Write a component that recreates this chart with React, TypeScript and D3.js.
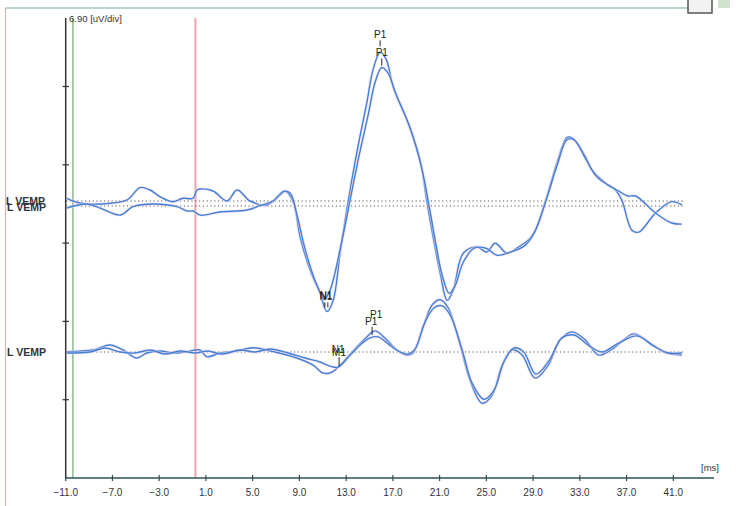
import React from 'react';
import * as d3 from 'd3';

// time [ms], amplitude [uV]
const topA: [number, number][] = [
  [-10.91, 0.24], [-9.78, -0.18], [-8.06, -0.27], [-5.75, 0.09], [-4.64, 1.18], [-3.78, 0.97],
  [-2.93, 0.38], [-1.81, -0.06], [-0.96, 0.24], [-0.1, 0.24], [0.24, 0.97], [0.5, 1.06],
  [1.61, 0.88], [2.81, 0], [3.67, 0.97], [4.78, 0], [6.23, -0.35], [7.35, 0.53], [7.78, 0.88],
  [8.46, -0.06], [9.06, -3.15], [9.92, -6.1], [10.77, -8.14], [11.35, -9.73], [11.89, -8.76],
  [12.48, -4.6], [13.17, -0.06], [13.91, 4.25], [14.77, 8.67], [15.31, 11.6], [15.91, 13.1],
  [16.42, 12.5], [17.02, 10.1], [18.19, 7.17], [19.33, 3.63], [19.91, -0.06], [20.45, -3.19],
  [21.05, -6.37], [21.65, -8.76], [22.16, -7.88], [23.02, -4.6], [24.19, -4.04], [25.04, -4.49],
  [25.75, -3.72], [26.76, -4.6], [27.61, -4.16], [28.75, -3.27], [29.32, -2.27], [30.18, 0.38],
  [31.04, 3.36], [31.89, 5.58], [32.31, 5.58], [33.48, 3.92], [34.02, 2.74], [35.19, 1.59],
  [36.05, 0.97], [36.59, 0.09], [37.45, -2.57], [38.05, -2.74], [39.48, -1.06], [40.87, -0.06],
  [41.73, -0.35],
];

const topB: [number, number][] = [
  [-10.91, -0.18], [-9.18, 0.18], [-8.06, -0.18], [-6.35, -0.8], [-5.24, -0.06], [-3.53, 0.18],
  [-1.47, -0.06], [-0.61, -0.44], [-0.1, -0.44], [0.5, -0.8], [2.21, -0.53], [4.52, -0.35],
  [5.63, 0.03], [6.75, 0.44], [7.61, 1.27], [8.2, 1.15], [8.8, -0.8], [9.4, -3.45], [10.17, -6.1],
  [10.77, -7.6], [11.11, -8.23], [11.62, -7.43], [12.65, -3.0], [13.34, 0.53], [14.03, 4.07],
  [14.88, 8.0], [15.48, 10.9], [16.05, 12.2], [16.59, 11.7], [17.28, 9.8], [18.47, 6.9],
  [19.5, 3.19], [20.1, 0], [20.7, -3.45], [21.22, -6.1], [21.82, -7.7], [22.34, -7.0],
  [23.02, -4.96], [23.96, -3.72], [24.98, -3.72], [25.92, -4.34], [27.04, -4.07], [28.23, -3.54],
  [29.09, -2.39], [30.12, 0.53], [31.07, 3.63], [31.9, 5.84], [32.5, 5.84], [33.55, 4.07],
  [34.4, 2.65], [35.4, 1.86], [36.3, 1.33], [37.1, 0.88], [37.77, 0.88], [39.48, -0.62],
  [40.87, -1.5], [41.73, -1.6],
];

const botA: [number, number][] = [
  [-10.91, 0.03], [-8.66, 0.18], [-7.21, 0.62], [-6.09, 0.18], [-4.92, -0.53], [-4.07, -0.09],
  [-2.93, 0.09], [-1.81, -0.09], [-0.64, 0.03], [0.5, 0.18], [1.07, -0.42], [2.21, -0.09],
  [3.64, 0.09], [5.04, 0.38], [6.75, 0.03], [8.46, -0.42], [10.17, -1.15], [11.03, -1.86],
  [11.8, -1.77], [12.9, -0.71], [13.91, 0.44], [14.77, 1.33], [15.48, 1.86], [16.48, 1.06],
  [17.34, 0.18], [18.19, -0.27], [18.73, -0.09], [19.59, 2.21], [20.37, 4.16], [21.05, 4.6],
  [21.73, 3.9], [22.76, 0.62], [23.6, -2.48], [24.64, -4.51], [25.5, -3.8], [26.35, -1.15],
  [27.2, 0.18], [28.06, -0.27], [29.18, -2.3], [30.3, -1.15], [31.3, 1.06], [32.35, 1.77],
  [33.46, 1.06], [34.62, -0.27], [35.9, 0.35], [37.6, 1.6], [38.9, 0.88], [40.2, 0], [41.73, -0.27],
];

const botB: [number, number][] = [
  [-10.91, -0.09], [-8.92, 0], [-7.64, 0.35], [-6.35, 0], [-5.07, -0.09], [-3.78, 0.18],
  [-2.5, -0.18], [-1.21, 0.09], [0.07, -0.09], [1.18, 0.09], [2.38, -0.18], [3.92, 0.18],
  [5.2, 0], [6.49, 0.27], [8.03, -0.09], [9.49, -0.53], [10.77, -0.88], [11.62, -1.24],
  [12.31, -1.33], [13.34, -0.27], [14.2, 0.62], [15.05, 1.24], [15.74, 1.33], [16.6, 0.71],
  [17.46, 0.09], [18.3, -0.18], [18.9, 0.27], [19.76, 2.65], [20.53, 3.9], [21.22, 4.07],
  [21.9, 3.27], [22.93, 0.18], [23.78, -2.74], [24.8, -4.16], [25.66, -3.36], [26.5, -0.88],
  [27.37, 0.35], [28.2, 0], [29.24, -1.95], [30.4, -0.71], [31.46, 1.24], [32.5, 1.5],
  [33.7, 0.62], [34.9, 0], [36.2, 0.71], [37.9, 1.42], [39.3, 0.53], [40.6, -0.09], [41.73, -0.09],
];

const xTicks = [-11, -7, -3, 1, 5, 9, 13, 17, 21, 25, 29, 33, 37, 41];
const divTicks = [1, 2, 3, 4, 5];
const scaleLabel = '6.90 [uV/div]';
const uvPerDiv = 6.9;

const W = 736;
const H = 506;

export default function App() {
  const x = d3.scaleLinear().domain([-11, 41]).range([65.7, 673.3]);
  const yDiv = d3.scaleLinear().domain([0, 5]).range([478, 86.5]);
  const pxPerUv = (yDiv(0) - yDiv(1)) / uvPerDiv;

  const traceScale = (base: number) => d3.scaleLinear().domain([0, 1]).range([base, base - pxPerUv]);
  const traces = [
    { data: topA, y: traceScale(201) },
    { data: topB, y: traceScale(206) },
    { data: botA, y: traceScale(352) },
    { data: botB, y: traceScale(352) },
  ];
  const baselines = [201, 206, 352];

  const mk = (i: number, t: number) => {
    const p = traces[i].data.find(d => d[0] === t)!;
    return [x(p[0]), traces[i].y(p[1])];
  };
  const pA = mk(0, 15.91);
  const pB = mk(1, 16.05);
  const nA = mk(0, 11.35);
  const nB = mk(1, 11.11);
  const bP = mk(2, 15.48);
  const bN = mk(3, 12.31);

  const font = 'Liberation Sans, Arial, sans-serif';
  const blue = '#3f80d8';

  return (
    <svg width={W} height={H} style={{ position: 'absolute', left: 0, top: 0, background: '#fff' }} fontFamily={font}>
      {/* frame */}
      <line x1={5.5} x2={688} y1={8} y2={8} stroke="#a9c3c6" strokeWidth={1.5} />
      <line x1={5.5} x2={5.5} y1={8} y2={H} stroke="#c9b7b0" strokeWidth={1.2} />
      <rect x={688} y={-2} width={24} height={15} fill="#f2f2f2" stroke="#555" strokeWidth={1.5} />
      <rect x={718} y={0} width={12} height={8} fill="#cfe3cf" />

      {/* markers lines */}
      <line x1={x(0.1)} x2={x(0.1)} y1={18} y2={478} stroke="#f4a2ac" strokeWidth={2} />
      <line x1={x(-10.38)} x2={x(-10.38)} y1={18} y2={478} stroke="#4f9a52" strokeWidth={1} />

      {/* baselines */}
      {baselines.map(b => (
        <line key={b} x1={66} x2={685} y1={b} y2={b} stroke="#555" strokeWidth={1} strokeDasharray="1.2 2.6" />
      ))}

      {/* y axis */}
      <line x1={65.7} x2={65.7} y1={18} y2={478} stroke="#333" strokeWidth={1.5} />
      {divTicks.map(d => (
        <line key={d} x1={62.5} x2={69} y1={yDiv(d)} y2={yDiv(d)} stroke="#333" strokeWidth={1.2} />
      ))}
      <text x={69} y={22} fontSize={9.5} fill="#333">{scaleLabel}</text>

      {/* x axis */}
      <line x1={65.7} x2={714} y1={478} y2={478} stroke="#2f4f5a" strokeWidth={1.5} />
      {xTicks.map(t => (
        <g key={t}>
          <line x1={x(t)} x2={x(t)} y1={475} y2={481} stroke="#2f4f5a" strokeWidth={1.2} />
          <text x={x(t)} y={496} fontSize={10} fill="#333" textAnchor="middle">{d3.format('.1f')(t)}</text>
        </g>
      ))}
      <text x={710} y={471} fontSize={9.5} fill="#333" textAnchor="middle">[ms]</text>

      {/* traces */}
      {traces.map((tr, i) => {
        const line = d3.line<[number, number]>()
          .x(d => x(d[0]))
          .y(d => tr.y(d[1]))
          .curve(d3.curveCatmullRom.alpha(0.5));
        return (
          <g key={i}>
            <path d={line(tr.data) || ''} fill="none" stroke="#f3d6e4" strokeWidth={3} opacity={0.6} />
            <path d={line(tr.data) || ''} fill="none" stroke={blue} strokeWidth={1.4} />
          </g>
        );
      })}

      {/* left labels */}
      <text x={6} y={205} fontSize={10.5} fontWeight="bold" fill="#333">L VEMP</text>
      <text x={7} y={211} fontSize={10.5} fontWeight="bold" fill="#333">L VEMP</text>
      <text x={7} y={356} fontSize={10.5} fontWeight="bold" fill="#333">L VEMP</text>

      {/* peak labels */}
      <g fontSize={10} fill="#222" textAnchor="middle">
        <text x={pA[0]} y={pA[1] - 14}>P1</text>
        <line x1={pA[0]} x2={pA[0]} y1={pA[1] - 12} y2={pA[1] - 6} stroke="#222" />
        <text x={pB[0]} y={pB[1] - 12}>P1</text>
        <line x1={pB[0]} x2={pB[0]} y1={pB[1] - 9} y2={pB[1] - 2} stroke="#222" />

        <text x={nA[0] - 1} y={nA[1] - 11}>N1</text>
        <text x={nB[0] + 2} y={nA[1] - 12}>N1</text>
        <line x1={nA[0] - 2} x2={nA[0] - 2} y1={nA[1] - 9} y2={nA[1] - 4} stroke="#222" />
        <line x1={nA[0] + 1} x2={nA[0] + 1} y1={nA[1] - 9} y2={nA[1] - 4} stroke="#222" />

        <text x={bN[0]} y={bN[1] - 14}>N1</text>
        <text x={bN[0] + 1} y={bN[1] - 11}>M1</text>
        <line x1={bN[0] + 1} x2={bN[0] + 1} y1={bN[1] - 10} y2={bN[1] - 1} stroke="#222" />

        <text x={bP[0] + 1} y={bP[1] - 13}>P1</text>
        <text x={bP[0] - 4} y={bP[1] - 6}>P1</text>
        <line x1={bP[0] - 3} x2={bP[0] - 3} y1={bP[1] - 4} y2={bP[1] + 4} stroke="#222" />
      </g>
    </svg>
  );
}
